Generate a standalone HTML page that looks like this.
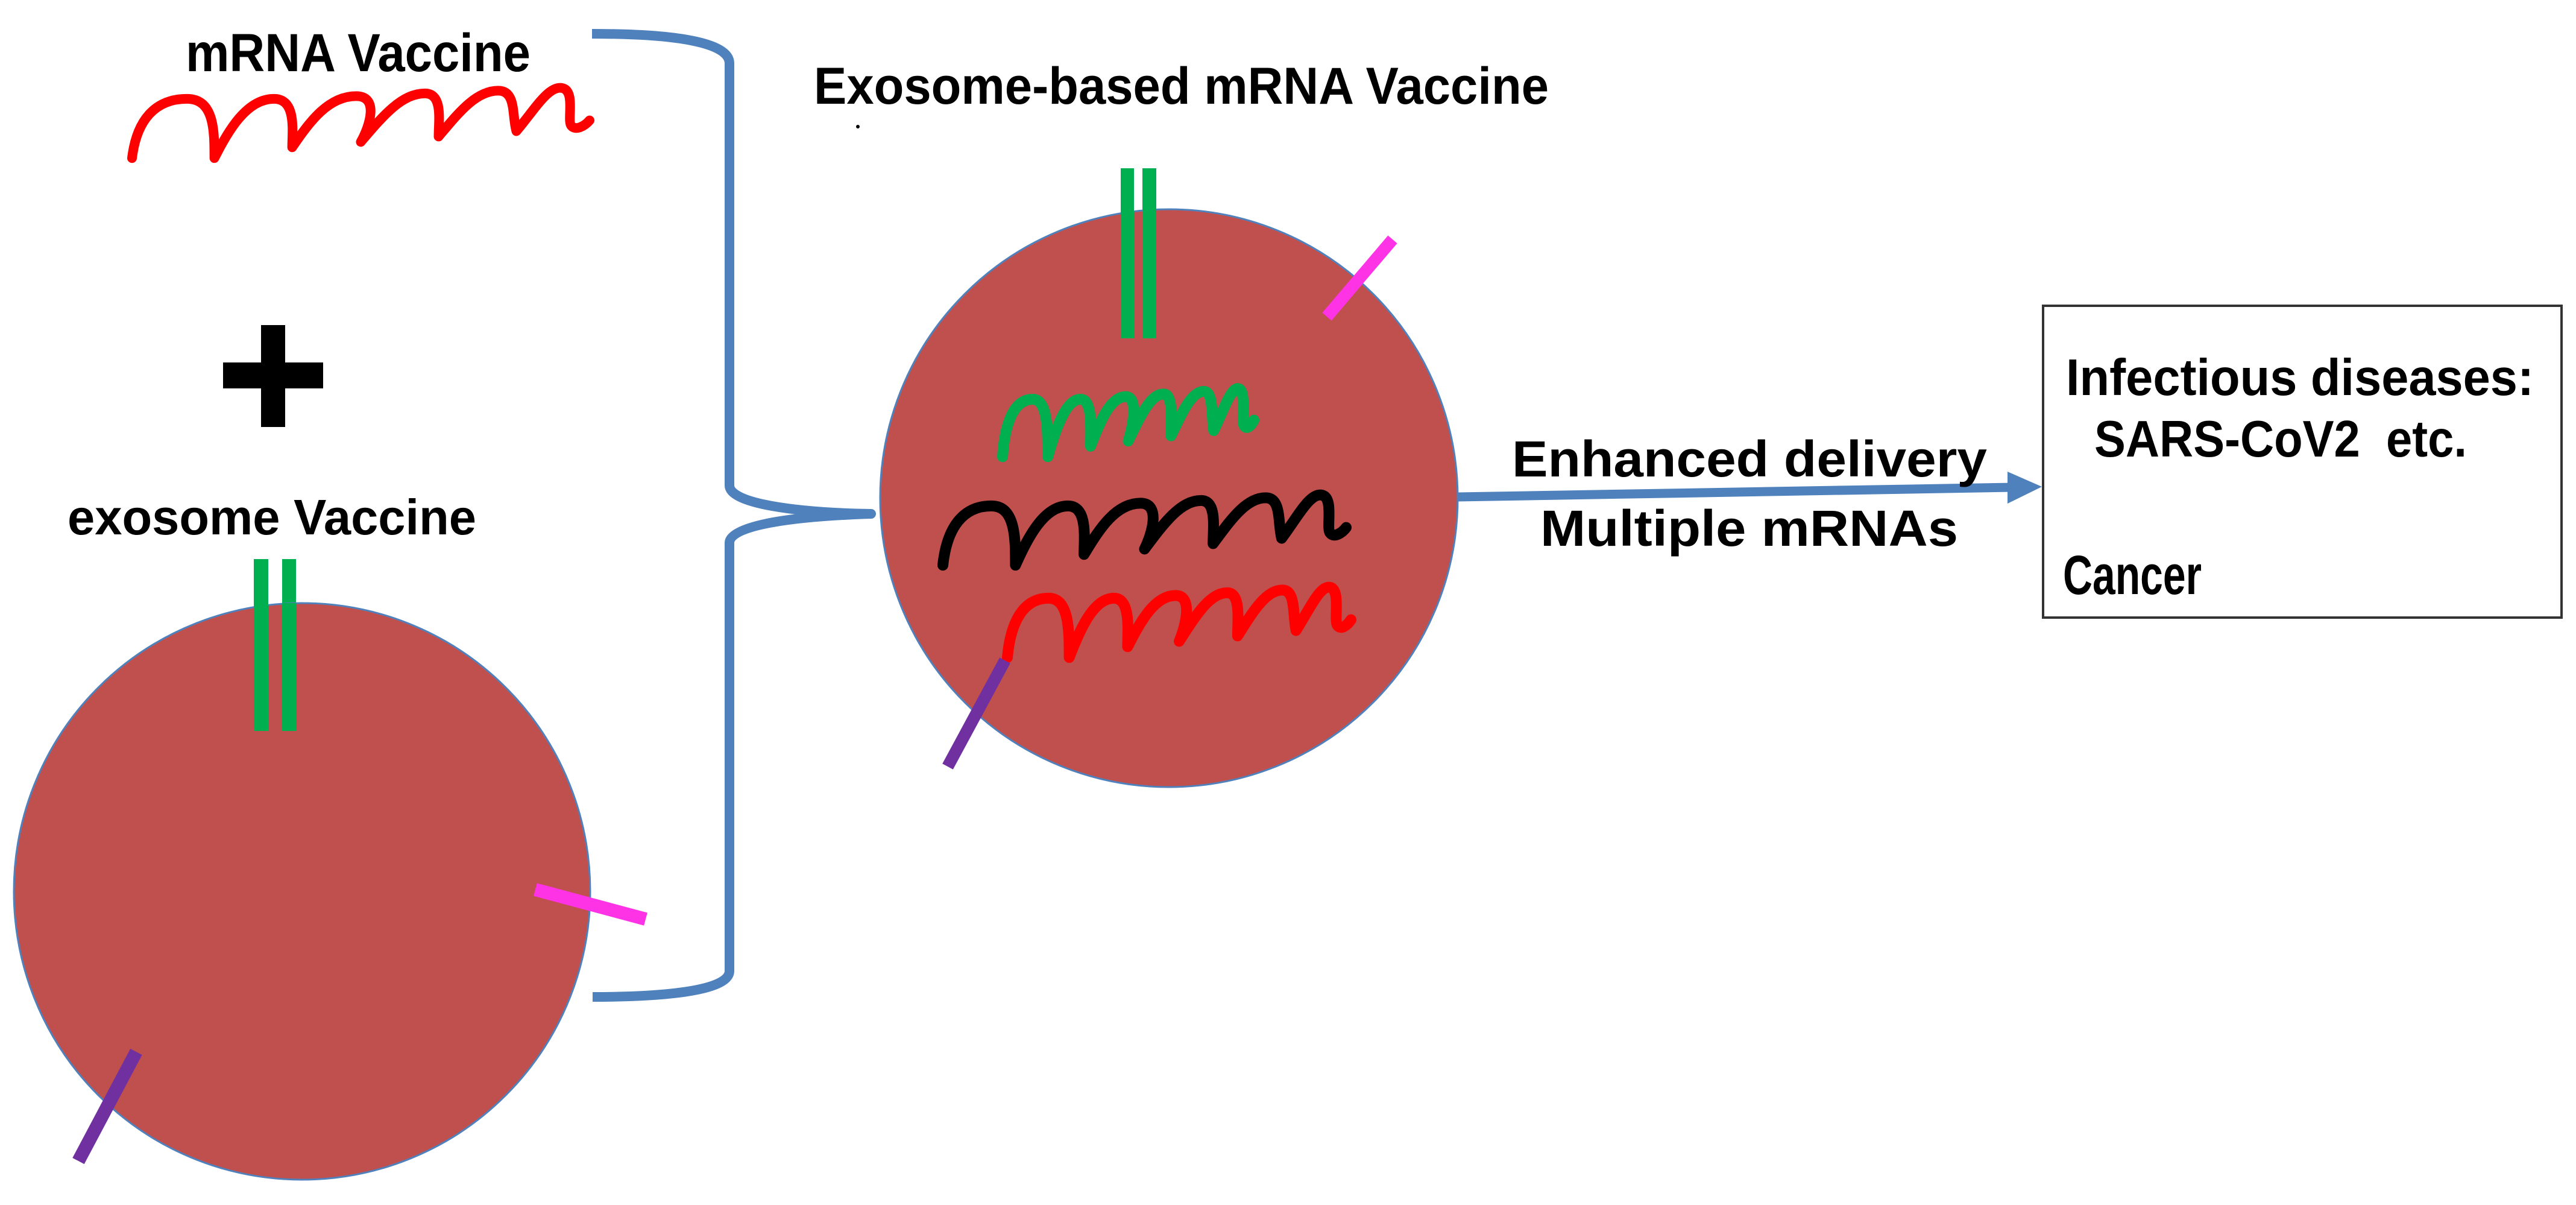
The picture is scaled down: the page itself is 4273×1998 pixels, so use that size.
<!DOCTYPE html>
<html><head><meta charset="utf-8"><style>
html,body{margin:0;padding:0;background:#fff;}
svg{display:block;}
text{font-family:"Liberation Sans",Arial,sans-serif;font-weight:bold;fill:#000;}
.sq{fill:none;stroke-linecap:round;stroke-linejoin:round;}
</style></head><body>
<svg width="4273" height="1998" viewBox="0 0 4273 1998" xmlns="http://www.w3.org/2000/svg">

<text x="308" y="118" font-size="89" textLength="572" lengthAdjust="spacingAndGlyphs">mRNA Vaccine</text>
<path class="sq" stroke="#ff0000" stroke-width="16" vector-effect="non-scaling-stroke" transform="translate(219,137) scale(7.59,4.47)" d="M0,28 C1,14 5,6 12,6 C18,6 18,18 18,28 C21,18 25,6 31,6 C36,6 35,18 35,24 C39,14 43,5 49,5 C54,5 52,16 50,22 C55,12 59,4 64,4 C68,4 67,14 67,20 C71,12 75,3 80,3 C84,3 83,12 84,18 C88,10 91,1 94,2 C97,3 95,14 96,16 C97,18 99,16 100,14"/>

<rect x="433" y="539" width="40" height="169" fill="#000"/>
<rect x="370" y="601" width="166" height="43" fill="#000"/>

<text x="112" y="886" font-size="83" textLength="678" lengthAdjust="spacingAndGlyphs">exosome Vaccine</text>

<rect x="421" y="927" width="24" height="285" fill="#00b050"/>
<rect x="468" y="927" width="23" height="285" fill="#00b050"/>
<circle cx="501" cy="1478" r="478" fill="#c0504d" stroke="#4f81bd" stroke-width="3"/>
<rect x="421" y="1000" width="24" height="212" fill="#00b050"/>
<rect x="468" y="1000" width="23" height="212" fill="#00b050"/>
<line x1="888" y1="1475" x2="1071" y2="1524" stroke="#ff33e6" stroke-width="22"/>
<line x1="226" y1="1744" x2="130" y2="1925" stroke="#7030a0" stroke-width="22"/>

<path d="M982,56 C1120,56 1210,70 1210,105 L1210,805 C1210,835 1320,850 1445,852 C1320,856 1210,870 1210,900 L1210,1610 C1210,1640 1120,1653 983,1653" fill="none" stroke="#4f81bd" stroke-width="16" stroke-linejoin="round"/>

<text x="1350" y="172" font-size="86" textLength="1219" lengthAdjust="spacingAndGlyphs">Exosome-based mRNA Vaccine</text>
<circle cx="1423" cy="210" r="3" fill="#000"/>

<circle cx="1939" cy="826" r="479" fill="#c0504d" stroke="#4f81bd" stroke-width="3"/>
<rect x="1859" y="279" width="22" height="282" fill="#00b050"/>
<rect x="1895" y="279" width="23" height="282" fill="#00b050"/>
<line x1="2310" y1="397" x2="2201" y2="525" stroke="#ff33e6" stroke-width="20"/>
<path class="sq" stroke="#00b050" stroke-width="18" vector-effect="non-scaling-stroke" transform="translate(1663,636) scale(4.17,4.33)" d="M0,28 C1,14 5,6 12,6 C18,6 18,18 18,28 C21,18 25,6 31,6 C36,6 35,18 35,24 C39,14 43,5 49,5 C54,5 52,16 50,22 C55,12 59,4 64,4 C68,4 67,14 67,20 C71,12 75,3 80,3 C84,3 83,12 84,18 C88,10 91,1 94,2 C97,3 95,14 96,16 C97,18 99,16 100,14"/>
<path class="sq" stroke="#000" stroke-width="18" vector-effect="non-scaling-stroke" transform="translate(1564,812) scale(6.69,4.47)" d="M0,28 C1,14 5,6 12,6 C18,6 18,18 18,28 C21,18 25,6 31,6 C36,6 35,18 35,24 C39,14 43,5 49,5 C54,5 52,16 50,22 C55,12 59,4 64,4 C68,4 67,14 67,20 C71,12 75,3 80,3 C84,3 83,12 84,18 C88,10 91,1 94,2 C97,3 95,14 96,16 C97,18 99,16 100,14"/>
<path class="sq" stroke="#ff0000" stroke-width="18" vector-effect="non-scaling-stroke" transform="translate(1671,965) scale(5.7,4.47)" d="M0,28 C1,14 5,6 12,6 C18,6 18,18 18,28 C21,18 25,6 31,6 C36,6 35,18 35,24 C39,14 43,5 49,5 C54,5 52,16 50,22 C55,12 59,4 64,4 C68,4 67,14 67,20 C71,12 75,3 80,3 C84,3 83,12 84,18 C88,10 91,1 94,2 C97,3 95,14 96,16 C97,18 99,16 100,14"/>
<line x1="1667" y1="1095" x2="1572" y2="1271" stroke="#7030a0" stroke-width="20"/>

<line x1="2417" y1="824" x2="3340" y2="808" stroke="#4f81bd" stroke-width="15"/>
<polygon points="3330,782 3387,807 3330,835" fill="#4f81bd"/>

<text x="2508" y="790" font-size="84" textLength="788" lengthAdjust="spacingAndGlyphs">Enhanced delivery</text>
<text x="2555" y="905" font-size="84" textLength="693" lengthAdjust="spacingAndGlyphs">Multiple mRNAs</text>

<rect x="3389" y="507" width="860" height="517" fill="#fff" stroke="#333" stroke-width="4"/>
<text x="3427" y="655" font-size="85" textLength="776" lengthAdjust="spacingAndGlyphs">Infectious diseases:</text>
<text x="3474" y="757" font-size="85" xml:space="preserve" textLength="618" lengthAdjust="spacingAndGlyphs">SARS-CoV2  etc.</text>
<text x="3422" y="985" font-size="92" textLength="230" lengthAdjust="spacingAndGlyphs">Cancer</text>
</svg>
</body></html>
